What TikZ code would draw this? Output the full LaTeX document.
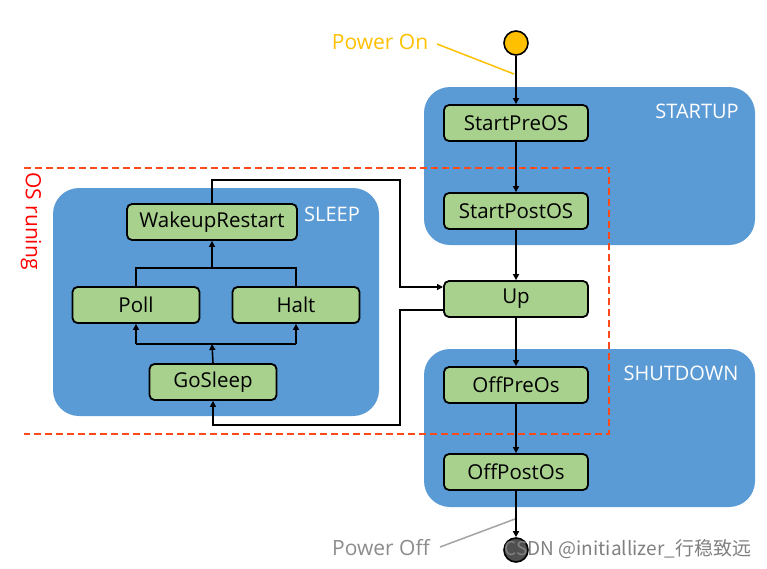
\documentclass[tikz,border=0pt]{standalone}
\usepackage{fontspec}
\setmainfont{Open Sans}
\newfontfamily\cjkfont{Noto Sans CJK SC}
\usetikzlibrary{arrows.meta,calc}
\definecolor{boxblue}{HTML}{5B9BD5}
\definecolor{stategreen}{HTML}{A9D18E}
\definecolor{poweryellow}{HTML}{FFC000}
\definecolor{dashred}{HTML}{FF4A1C}
\definecolor{offgray}{HTML}{8C8C8C}
\definecolor{offcircle}{HTML}{505050}
\tikzset{
  statebox/.style={draw=black, line width=1.8pt, fill=stategreen, rounded corners=5pt,
    minimum width=144pt, minimum height=36pt, inner sep=0pt, font=\fontsize{20.5}{24}\selectfont},
  smallbox/.style={statebox, minimum width=127pt},
  midbox/.style={statebox, minimum width=170pt},
  group/.style={fill=boxblue, rounded corners=26pt},
  grouplabel/.style={text=white, font=\fontsize{20}{24}\selectfont, inner sep=0pt},
  arr/.style={line width=1.6pt, -{Triangle[length=6pt,width=6pt]}},
  ln/.style={line width=1.6pt},
  plabel/.style={font=\fontsize{21}{25}\selectfont, inner sep=0pt},
}
\begin{document}
\begin{tikzpicture}[x=1pt,y=-1pt]
\useasboundingbox (0,0) rectangle (767,568);
% group backgrounds
\fill[group] (424,87) rectangle (755,245);
\fill[group] (424,349) rectangle (755,507);
\fill[group] (53,188) rectangle (379,416);
\node[grouplabel] (lstart) at (697,111) {STARTUP};
\node[grouplabel] (lshut) at (681,373) {SHUTDOWN};
\node[grouplabel] (lsleep) at (332,214) {SLEEP};
% states
\node[statebox] (spre) at (516,123) {StartPreOS};
\node[statebox] (spost) at (516,211) {StartPostOS};
\node[statebox] (up) at (516,299) {Up};
\node[statebox] (opre) at (516,385) {OffPreOs};
\node[statebox] (opost) at (516,472) {OffPostOs};
\node[midbox] (wr) at (212,222) {WakeupRestart};
\node[smallbox] (poll) at (136,305) {Poll};
\node[smallbox] (halt) at (296,305) {Halt};
\node[smallbox] (gs) at (213,382) {GoSleep};
% power circles
\node[circle, draw=black, line width=1.6pt, fill=poweryellow, minimum size=24pt, inner sep=0pt] (pon) at (516,43) {};
\node[circle, draw=black, line width=1.6pt, fill=offcircle, minimum size=24pt, inner sep=0pt] (poff) at (516,550) {};
% labels
\node[plabel, text=poweryellow] (lpon) at (380,42) {Power On};
\node[plabel, text=offgray] (lpoff) at (381,548) {Power Off};
\coordinate (ponstart) at (437,44);
\coordinate (ponend) at (514,74);
\coordinate (poffstart) at (440,547);
\coordinate (poffend) at (515,519);
\draw[poweryellow, line width=1.5pt] (ponstart) -- (ponend);
\draw[offgray!80, line width=1.5pt] (poffstart) -- (poffend);
% main chain
\draw[arr] (pon) -- (spre);
\draw[arr] (spre) -- (spost);
\draw[arr] (spost) -- (up);
\draw[arr] (up) -- (opre);
\draw[arr] (opre) -- (opost);
\draw[arr] (opost) -- (poff);
% sleep internals
\coordinate (j1) at (212,268);
\coordinate (j2) at (212,344);
\draw[ln] (poll.north) |- (j1) -| (halt.north);
\draw[arr] (j1) -- (wr.south);
\draw[arr] (gs.north) -- (j2);
\draw[ln] (poll.south |- j2) -- (halt.south |- j2);
\draw[arr] (poll.south |- j2) -- (poll.south);
\draw[arr] (halt.south |- j2) -- (halt.south);
% loops with Up
\coordinate (c1) at (400,180);
\coordinate (upin) at (443,287);
\coordinate (upout) at (443,310);
\coordinate (c3) at (400,425);
\draw[arr] (wr.north) |- (c1) |- (upin);
\draw[arr] (upout) -| (c3) -| (gs.south);
% OS running region
\draw[dashred, line width=2pt, dash pattern=on 7pt off 4pt] (24,168) -- (609,168) -- (609,434) -- (24,434);
\node[plabel, text=red, rotate=-90] (osr) at (31,221) {OS runing};
% watermark
\node[text=gray, font=\fontsize{19}{22}\selectfont\cjkfont, inner sep=0pt] (wm) at (628,549) {CSDN @initiallizer\_行稳致远};
\end{tikzpicture}
\end{document}
